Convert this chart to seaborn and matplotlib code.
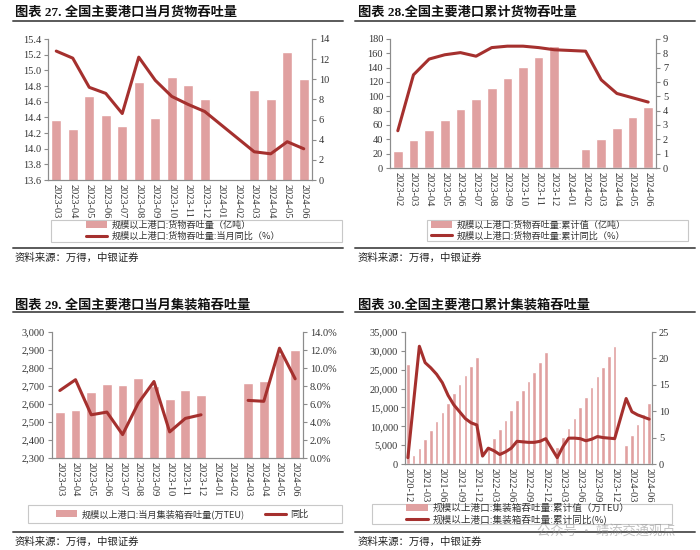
import numpy as np
import pandas as pd
import matplotlib
matplotlib.use('Agg')
import matplotlib.pyplot as plt
from matplotlib.patches import Patch, Rectangle
from matplotlib.lines import Line2D
from matplotlib.ticker import FuncFormatter
import seaborn as sns

sns.set_theme(style='white')
plt.rcParams['font.family'] = ['Liberation Serif', 'Noto Sans CJK SC', 'DejaVu Sans']
plt.rcParams['axes.unicode_minus'] = False

nan = np.nan

# 图表27: 当月货物吞吐量
months27 = [str(p) for p in pd.period_range('2023-03', '2024-06', freq='M')]
cargo27 = [14.36, 14.25, 14.67, 14.43, 14.29, 14.85, 14.39, 14.91, 14.81, 14.63,
           nan, nan, 14.75, 14.63, 15.23, 14.89]
cargo27_yoy = [12.8, 12.1, 9.2, 8.6, 6.6, 12.2, 9.9, 8.3, 7.5, 6.8,
               nan, nan, 2.8, 2.6, 3.8, 3.1]

# 图表28: 累计货物吞吐量
months28 = [str(p) for p in pd.period_range('2023-02', '2024-06', freq='M')]
cargo28 = [24.2, 38.6, 53.0, 67.4, 81.9, 96.3, 111.2, 125.6, 140.5, 154.9, 170.2,
           nan, 26.0, 40.9, 55.8, 70.7, 85.6]
cargo28_yoy = [2.6, 6.5, 7.6, 7.9, 8.05, 7.8, 8.4, 8.5, 8.5, 8.4, 8.25,
               nan, 8.15, 6.15, 5.2, 4.9, 4.6]

# 图表29: 当月集装箱吞吐量
months29 = months27
teu29 = [2558, 2567, 2665, 2711, 2703, 2746, 2700, 2630, 2678, 2650,
         nan, nan, 2714, 2727, 2880, 2902]
teu29_yoy = [7.5, 8.7, 4.8, 5.1, 2.6, 6.1, 8.5, 2.9, 4.4, 4.8,
             nan, nan, 6.4, 6.3, 12.2, 8.8]

# 图表30: 累计集装箱吞吐量
months30 = [str(p) for p in pd.period_range('2020-12', '2024-06', freq='M')]
teu30 = [26550,
         2400, 4150, 6550, 9000, 11450, 13850, 16200, 18700, 21150, 23700, 26100, 28400,
         nan, 4300, 6800, 9200, 11650, 14300, 16950, 19600, 21950, 24450, 27100, 29650,
         nan, 4580, 7050, 9600, 12250, 15000, 17800, 20450, 23250, 25700, 28550, 31200,
         nan, 5000, 7700, 10500, 13300, 16100]
teu30_yoy = [1.2,
             nan, 22.3, 19.2, 18.2, 17.0, 15.4, 13.0, 11.2, 9.9, 8.6, 7.8, 7.4,
             1.5, 3.0, 2.5, 1.8, 2.3, 3.0, 4.3, 4.2, 4.1, 4.1, 4.3, 4.8,
             nan, 1.2, 3.3, 4.9, 4.9, 4.8, 4.4, 4.7, 5.2, 5.0, 4.9, 4.8,
             nan, 12.4, 9.9, 9.3, 8.9, 8.5]

BAR = '#E0A0A0'
LINE = '#A5302E'
SPINE = '#8c8c8c'
TXT = '#333333'
CJK = ['Noto Sans CJK SC', 'DejaVu Sans']

W, H = 700, 550
fig = plt.figure(figsize=(7, 5.5), dpi=100)


def box(l, t, r, b):
    return [l / W, 1 - b / H, (r - l) / W, (b - t) / H]


def hline(x0, x1, y, lw=1.4, color='#5a5a5a'):
    fig.add_artist(Line2D([x0 / W, x1 / W], [1 - y / H, 1 - y / H],
                          color=color, lw=lw, transform=fig.transFigure))


def panel(rect, cats, bars, line, ylim, yticks, y2lim, y2ticks, yfmt, y2fmt,
          connect=True, xstep=1):
    ax = fig.add_axes(box(*rect))
    df = pd.DataFrame({'month': cats, 'value': bars})
    sns.barplot(data=df, x='month', y='value', order=cats, color=BAR, saturation=1,
                width=0.62, errorbar=None, ax=ax)
    ax2 = ax.twinx()
    x = np.arange(len(cats))
    y = np.array(line, dtype=float)
    if connect:
        ok = ~np.isnan(y)
        sns.lineplot(x=x[ok], y=y[ok], color=LINE, lw=2.2, ax=ax2)
    else:
        ax2.plot(x, y, color=LINE, lw=2.2, solid_joinstyle='round', solid_capstyle='round')
    ax.set_xlim(-0.5, len(cats) - 0.5)
    ax.set_ylim(*ylim)
    ax.set_yticks(yticks)
    ax2.set_ylim(*y2lim)
    ax2.set_yticks(y2ticks)
    ax.yaxis.set_major_formatter(FuncFormatter(yfmt))
    ax2.yaxis.set_major_formatter(FuncFormatter(y2fmt))
    ax.set_xticks(x[::xstep])
    ax.set_xticklabels(cats[::xstep], rotation=270, fontsize=7.5, color=TXT)
    ax.set_xlabel('')
    ax.set_ylabel('')
    ax2.set_ylabel('')
    ax.tick_params(axis='x', length=0, pad=3)
    ax.tick_params(axis='y', left=True, length=3, width=0.8, color=SPINE,
                   labelsize=7.5, labelcolor=TXT, pad=2)
    ax2.tick_params(axis='y', right=True, length=3, width=0.8, color=SPINE,
                    labelsize=7.5, labelcolor=TXT, pad=2)
    for a in (ax, ax2):
        a.spines['top'].set_visible(False)
        for s in ('left', 'right', 'bottom'):
            a.spines[s].set_color(SPINE)
            a.spines[s].set_linewidth(0.8)
    return ax, ax2


def legend_box(l, t, r, b, x0, labels, ncol=1, colsp=2.0, size=6.6):
    fig.add_artist(Rectangle((l / W, 1 - b / H), (r - l) / W, (b - t) / H,
                             transform=fig.transFigure, fill=False,
                             edgecolor='#c8c8c8', lw=0.8))
    handles = [Patch(facecolor=BAR, edgecolor='none'),
               Line2D([0], [0], color=LINE, lw=2.2)]
    fig.legend(handles, labels, loc='center left',
               bbox_to_anchor=(x0 / W, 1 - (t + b) / 2 / H), ncol=ncol,
               frameon=False, prop={'family': CJK, 'size': size},
               labelcolor=TXT, handlelength=2.3, handleheight=0.8,
               handletextpad=0.5, columnspacing=colsp, labelspacing=0.2,
               borderpad=0, borderaxespad=0)


f1 = lambda v, p: f'{v:.1f}'
f0 = lambda v, p: f'{v:.0f}'
fc = lambda v, p: f'{v:,.0f}'
fp = lambda v, p: f'{v:.1f}%'

# 图表27
panel((48, 39, 312, 180), months27, cargo27, cargo27_yoy,
      (13.6, 15.4), np.linspace(13.6, 15.4, 10), (0, 14), np.arange(0, 15, 2), f1, f0)
# 图表28
panel((390, 39, 656, 168), months28, cargo28, cargo28_yoy,
      (0, 180), np.arange(0, 181, 20), (0, 9), np.arange(0, 10, 1), f0, f0)
# 图表29
panel((52, 332, 303, 458), months29, teu29, teu29_yoy,
      (2300, 3000), np.arange(2300, 3001, 100), (0, 14), np.arange(0, 15, 2), fc, fp,
      connect=False)
# 图表30
panel((405, 332, 652, 464), months30, teu30, teu30_yoy,
      (0, 35000), np.arange(0, 35001, 5000), (0, 25), np.arange(0, 26, 5), fc, f0,
      xstep=3)

# titles, rules and sources
title_kw = dict(fontsize=9.5, fontweight='bold', color='#111111', va='center',
                family=['Liberation Serif', 'Noto Sans CJK SC'])
fig.text(15 / W, 1 - 12 / H, '图表 27. 全国主要港口当月货物吞吐量', **title_kw)
fig.text(358 / W, 1 - 12 / H, '图表 28.全国主要港口累计货物吞吐量', **title_kw)
fig.text(15 / W, 1 - 305 / H, '图表 29. 全国主要港口当月集装箱吞吐量', **title_kw)
fig.text(358 / W, 1 - 305 / H, '图表 30.全国主要港口累计集装箱吞吐量', **title_kw)
for x0, x1, yy in [(13, 343, 21), (355, 695, 21), (13, 343, 312), (355, 695, 312),
                   (13, 343, 248), (355, 695, 248), (13, 343, 532), (355, 695, 532)]:
    hline(x0, x1, yy)
src_kw = dict(fontsize=7.5, color='#222222', va='center', family=CJK, style='italic')
for sx, sy in [(15, 258), (358, 258), (15, 542), (358, 542)]:
    fig.text(sx / W, 1 - sy / H, '资料来源：万得，中银证券', **src_kw)

# legends
legend_box(51, 220, 342, 242, 86,
           ['规模以上港口:货物吞吐量（亿吨）', '规模以上港口:货物吞吐量:当月同比（%）'])
legend_box(427, 220, 688, 241, 431,
           ['规模以上港口:货物吞吐量:累计值（亿吨）', '规模以上港口:货物吞吐量:累计同比（%）'])
legend_box(28, 505, 342, 523, 56,
           ['规模以上港口:当月集装箱吞吐量(万TEU)', '同比'], ncol=2, colsp=2.2)
legend_box(372, 504, 672, 524, 406,
           ['规模以上港口:集装箱吞吐量:累计值（万TEU）', '规模以上港口:集装箱吞吐量:累计同比(%)'],
           size=6.9)

# watermark
fig.text(537 / W, 1 - 531 / H, '公众号 · 靖添交通观点', fontsize=9.5, color='#909090',
         alpha=0.55, va='center', family=CJK)

fig.savefig('out.png', dpi=100)
